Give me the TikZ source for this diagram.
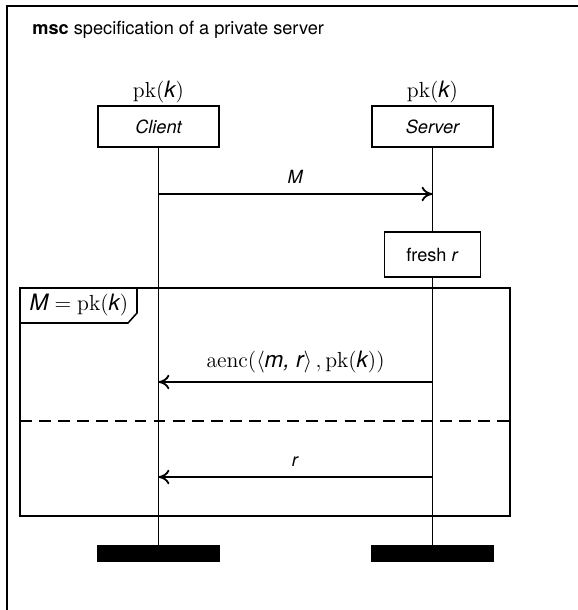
\documentclass[tikz,border=0pt]{standalone}
\usepackage{amsmath,amssymb}
\usepackage[no-math]{fontspec}
\setmainfont{TeX Gyre Heros}
\usetikzlibrary{arrows.meta}
\newcommand{\pkey}[1]{\mathrm{pk}(\textit{#1})}

\begin{document}
\begin{tikzpicture}[x=0.55pt,y=-0.55pt,>={To[length=6pt,width=8pt]},
    inst/.style={draw,line width=1pt,minimum width=66.5pt,minimum height=22.5pt,font=\itshape},
    act/.style={draw,line width=1pt,minimum width=52.8pt,minimum height=24.7pt},
    endbar/.style={fill=black,minimum width=67.6pt,minimum height=9.4pt,inner sep=0pt},
    life/.style={line width=1pt},
    msg/.style={line width=1pt,->},
    frame/.style={line width=0.85pt},
    term/.style={font=\fontsize{12.4}{14}\selectfont}]
            \useasboundingbox (0,0) rectangle (578,610);
            \begin{scope}
                \clip (0,0) rectangle (578,610);
                \draw [frame] (7,6) rectangle (620,650);
            \end{scope}
            \node [anchor=base west] (title) at (26,34) {\textbf{msc} specification of a private server};
            \node [inst] (client) at (158.5,126.5) {Client};
            \node [inst] (server) at (432.5,126.5) {Server};
            \node [term,anchor=south,inner sep=1pt] (ckey) at (client.north) {$\pkey{k}$};
            \node [term,anchor=south,inner sep=1pt] (skey) at (server.north) {$\pkey{k}$};
            \node [act] (fresh) at (432.5,254.5) {fresh \textit{r}};
            \node [endbar] (cend) at (158.5,553.5) {};
            \node [endbar] (send) at (432.5,553.5) {};
            \draw [life] (client) -- (cend);
            \draw [life] (server) -- (fresh);
            \draw [life] (fresh) -- (send);
            \draw [frame] (20,288) rectangle (510,516);
            \draw [frame] (20,288) -- (137,288) -- (137,313) -- (128,323) -- (20,323);
            \node [term] (cond) at (79,305.5) {$\textit{M} = \pkey{k}$};
            \draw [frame,dash pattern=on 6.5pt off 4pt] (20,421) -- (510,421);
            \coordinate (c1) at (158.5,194);
            \coordinate (s1) at (432.5,194);
            \coordinate (c2) at (158.5,382);
            \coordinate (s2) at (432.5,382);
            \coordinate (c3) at (158.5,477);
            \coordinate (s3) at (432.5,477);
            \draw [msg] (c1) -- node [above=2pt] {\textit{M}} (s1);
            \draw [msg] (s2) -- node [term,above=1pt] {$\mathrm{aenc}(\langle \textit{m, r}\rangle\,, \pkey{k})$} (c2);
            \draw [msg] (s3) -- node [above=2pt] {\textit{r}} (c3);
        \end{tikzpicture}
\end{document}
